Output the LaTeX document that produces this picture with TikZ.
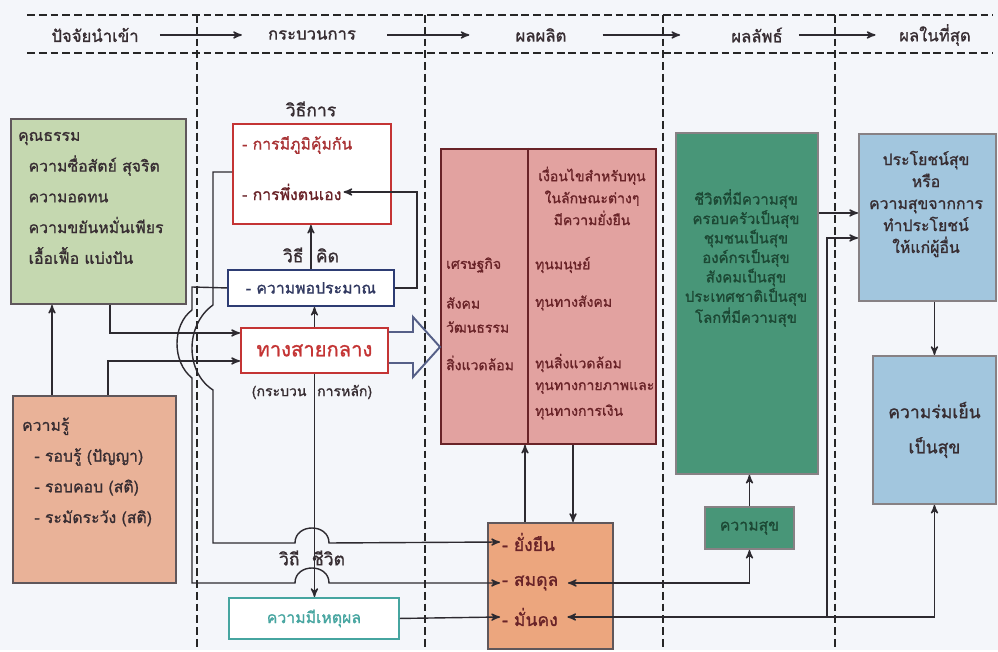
\documentclass[tikz,border=0pt]{standalone}
\usepackage{fontspec}
\setmainfont[Script=Thai, AutoFakeBold=1.2]{Loma}
\usetikzlibrary{arrows}
\definecolor{paper}{RGB}{244,246,250}
\definecolor{ink}{RGB}{55,45,50}
\definecolor{wire}{RGB}{45,42,48}
\definecolor{moralfill}{RGB}{197,216,176}
\definecolor{knowfill}{RGB}{233,178,152}
\definecolor{capfill}{RGB}{226,162,160}
\definecolor{balfill}{RGB}{236,166,126}
\definecolor{lifefill}{RGB}{72,150,120}
\definecolor{lifeink}{RGB}{28,72,52}
\definecolor{goalfill}{RGB}{162,198,222}
\definecolor{redline}{RGB}{196,52,52}
\definecolor{blueline}{RGB}{45,60,115}
\definecolor{tealline}{RGB}{70,165,160}
\definecolor{shaftline}{RGB}{85,95,135}
\definecolor{maroon}{RGB}{105,35,40}
\tikzset{
    box/.style={
        draw=#1,
        line width=1.1pt,
        inner sep=0pt,
        anchor=north west},
    box/.default=ink!80,
    txt/.style={
        text=ink,
        inner sep=1pt,
        font=\bfseries\fontsize{9}{17.5}\selectfont},
    smalltxt/.style={
        text=maroon,
        inner sep=1pt,
        font=\bfseries\fontsize{8}{9.5}\selectfont},
    tag/.style={
        text=ink,
        font=\bfseries\fontsize{10}{12}\selectfont},
    hd/.style={
        text=ink,
        font=\bfseries\fontsize{9.5}{11}\selectfont},
    colrule/.style={
        draw=black!85,
        line width=1.3pt,
        dash pattern=on 4.5pt off 2.2pt},
    link/.style={
        draw=wire,
        line width=0.8pt,
        ->,>=stealth'}}
\begin{document}
\begin{tikzpicture}[x=0.02cm,y=-0.02cm]
        \fill[paper] (0,0) rectangle (998,650);
        % header band and columns
        \draw[colrule] (27,15) -- (993,15);
        \draw[colrule] (27,53) -- (993,53);
        \draw[colrule] (197,15) -- (197,650);
        \draw[colrule] (425,15) -- (425,650);
        \draw[colrule] (663,15) -- (663,650);
        \draw[colrule] (835,15) -- (835,650);
        \node[hd] (h1) at (95,35) {ปัจจัยนำเข้า};
        \node[hd] (h2) at (312,35) {กระบวนการ};
        \node[hd] (h3) at (541,35) {ผลผลิต};
        \node[hd] (h4) at (757,35) {ผลลัพธ์};
        \node[hd] (h5) at (935,35) {ผลในที่สุด};
        \draw[link, shorten <=3mm, shorten >=4mm] (h1) -- (h2);
        \draw[link, shorten <=5mm, shorten >=8mm] (h2) -- (h3);
        \draw[link, shorten <=6mm, shorten >=9mm] (h3) -- (h4);
        \draw[link, shorten <=2mm, shorten >=3.5mm] (h4) -- (h5);
        % inputs
        \node[box, fill=moralfill, minimum width=3.5cm, minimum height=3.7cm] (moral) at (10,118) {};
        \node[txt, anchor=west, align=left] (moraltxt) at (16,198) {คุณธรรม\\\hspace*{6pt}ความซื่อสัตย์ สุจริต\\\hspace*{6pt}ความอดทน\\\hspace*{6pt}ความขยันหมั่นเพียร\\\hspace*{6pt}เอื้อเฟื้อ แบ่งปัน};
        \node[box, fill=knowfill, minimum width=3.26cm, minimum height=3.74cm] (know) at (12,395) {};
        \node[txt, anchor=west, align=left] (knowtxt) at (20,472) {ความรู้\\\hspace*{7pt}- รอบรู้ (ปัญญา)\\\hspace*{7pt}- รอบคอบ (สติ)\\\hspace*{7pt}- ระมัดระวัง (สติ)};
        % process
        \node[tag] (methodtag) at (311,109) {วิธีการ};
        \node[box=redline, fill=white, minimum width=3.16cm, minimum height=2cm] (method) at (232,123) {};
        \node[txt, anchor=west, text=redline!80!ink] (m1) at (240,145) {- การมีภูมิคุ้มกัน};
        \node[txt, anchor=west, text=maroon] (m2) at (240,192) {- การพึ่งตนเอง};
        \node[tag] (thinktag) at (311,255) {วิธี\hspace{7pt}คิด};
        \node[txt, box=blueline, fill=white, minimum width=3.32cm, minimum height=0.72cm, text=blueline!70!ink] (think) at (227,269) {- ความพอประมาณ};
        \node[txt, box=redline, fill=white, minimum width=2.94cm, minimum height=0.9cm, text=redline, font=\bfseries\fontsize{11.5}{13}\selectfont] (way) at (240,327) {ทางสายกลาง};
        \node[smalltxt, text=ink] (waytag) at (312,392) {(กระบวน\hspace{6pt}การหลัก)};
        \node[tag] (lifetag) at (312,558) {วิถี\hspace{7pt}ชีวิต};
        \node[txt, box=tealline, fill=white, minimum width=3.4cm, minimum height=0.82cm, text=tealline] (reason) at (228,597) {ความมีเหตุผล};
        % outputs
        \node[box=maroon, fill=capfill, minimum width=4.3cm, minimum height=5.9cm] (cap) at (440,148) {};
        \draw[maroon, line width=1.1pt] (cap.north -| 528,0) -- (cap.south -| 528,0);
        \node[smalltxt, align=center, font=\bfseries\fontsize{8}{12.5}\selectfont] (capnote) at (592,196) {เงื่อนไขสำหรับทุน\\ในลักษณะต่างๆ\\มีความยั่งยืน};
        \node[smalltxt, anchor=west] (eco) at (444,265) {เศรษฐกิจ};
        \node[smalltxt, anchor=west] (soc) at (444,303) {สังคม};
        \node[smalltxt, anchor=west] (cul) at (444,327) {วัฒนธรรม};
        \node[smalltxt, anchor=west] (env) at (444,363) {สิ่งแวดล้อม};
        \node[smalltxt, anchor=west] (hum) at (533,265) {ทุนมนุษย์};
        \node[smalltxt, anchor=west] (socc) at (533,303) {ทุนทางสังคม};
        \node[smalltxt, anchor=west] (envc) at (533,363) {ทุนสิ่งแวดล้อม};
        \node[smalltxt, anchor=west] (phyc) at (533,388) {ทุนทางกายภาพและ};
        \node[smalltxt, anchor=west] (finc) at (533,412) {ทุนทางการเงิน};
        \node[box, fill=balfill, minimum width=2.5cm, minimum height=2.52cm] (bal) at (487,522) {};
        \node[txt, anchor=west, text=maroon, font=\bfseries\fontsize{10}{12}\selectfont] (o1) at (500,542) {- ยั่งยืน};
        \node[txt, anchor=west, text=maroon, font=\bfseries\fontsize{10}{12}\selectfont] (o2) at (500,583) {- สมดุล};
        \node[txt, anchor=west, text=maroon, font=\bfseries\fontsize{10}{12}\selectfont] (o3) at (500,617) {- มั่นคง};
        % outcomes
        \node[box=ink!60, fill=lifefill, minimum width=2.84cm, minimum height=6.82cm] (happylife) at (675,132) {};
        \node[smalltxt, align=center, text=lifeink, font=\bfseries\fontsize{8.5}{9.5}\selectfont] (lifetxt) at (746,258) {ชีวิตที่มีความสุข\\ครอบครัวเป็นสุข\\ชุมชนเป็นสุข\\องค์กรเป็นสุข\\สังคมเป็นสุข\\ประเทศชาติเป็นสุข\\โลกที่มีความสุข};
        \node[txt, box=ink!60, fill=lifefill, minimum width=1.78cm, minimum height=0.84cm, text=lifeink] (happy) at (704,506) {ความสุข};
        \node[box=ink!60, fill=goalfill, minimum width=2.74cm, minimum height=3.34cm] (benefit) at (858,133) {};
        \node[txt, align=center, font=\bfseries\fontsize{9}{12.5}\selectfont] (benefittxt) at (926,204) {ประโยชน์สุข\\หรือ\\ความสุขจากการ\\ทำประโยชน์\\ให้แก่ผู้อื่น};
        \node[txt, box=ink!60, fill=goalfill, minimum width=2.46cm, minimum height=2.96cm, align=center, font=\bfseries\fontsize{10}{20}\selectfont] (peace) at (872,355) {ความร่มเย็น\\เป็นสุข};
        % main flow
        \draw[shaftline, line width=1.1pt, line join=miter] (way.east |- 0,332) -- (413,332) -- (413,317) -- (cap.west |- 0,347) -- (413,377) -- (413,363) -- (way.east |- 0,363);
        \draw[link] (know.north -| 52,0) -- (moral.south -| 52,0);
        \draw[link] (moral.south -| 110,0) |- (way.west |- 0,333);
        \draw[link] (know.north -| 108,0) |- (way.west |- 0,361);
        \draw[link] (method.west |- 0,172) -- (213,172) -- (213,305) .. controls (185,325) and (185,372) .. (213,390) -- (213,543) -- (295,543) .. controls (295,523) and (329,523) .. (329,543) -- (o1.west);
        \draw[link] (think.west) -- (192,287) -- (192,310) .. controls (172,325) and (172,362) .. (192,378) -- (192,583) -- (295,583) .. controls (295,563) and (329,563) .. (329,583) -- (o2.west);
        \draw[link] (reason.east) -- (o3.west);
        \draw[link] (way.north) -- (way.north |- think.south);
        \draw[link] (think.north) -- (think.north |- method.south);
        \draw[link] (think.east) -- (think.east -| 417,0) |- (m2.east);
        \draw[link] (way.south) -- (way.south |- reason.north);
        \draw[link] (bal.north -| 525,0) -- (cap.south -| 525,0);
        \draw[link] (cap.south -| 573,0) -- (bal.north -| 573,0);
        \draw[link, <->, shorten <=1.5mm] (o2.east) -| (happy.south);
        \draw[link] (happy.north) -- (happy.north |- happylife.south);
        \draw[link, <->, shorten <=1.5mm] (o3.east) -| (peace.south);
        \draw[link] (o3.east -| 827,0) |- (benefit.west |- 0,238);
        \draw[link] (happylife.east |- 0,213) -- (benefit.west |- 0,213);
        \draw[link] (peace.north |- benefit.south) -- (peace.north);
    \end{tikzpicture}
\end{document}
